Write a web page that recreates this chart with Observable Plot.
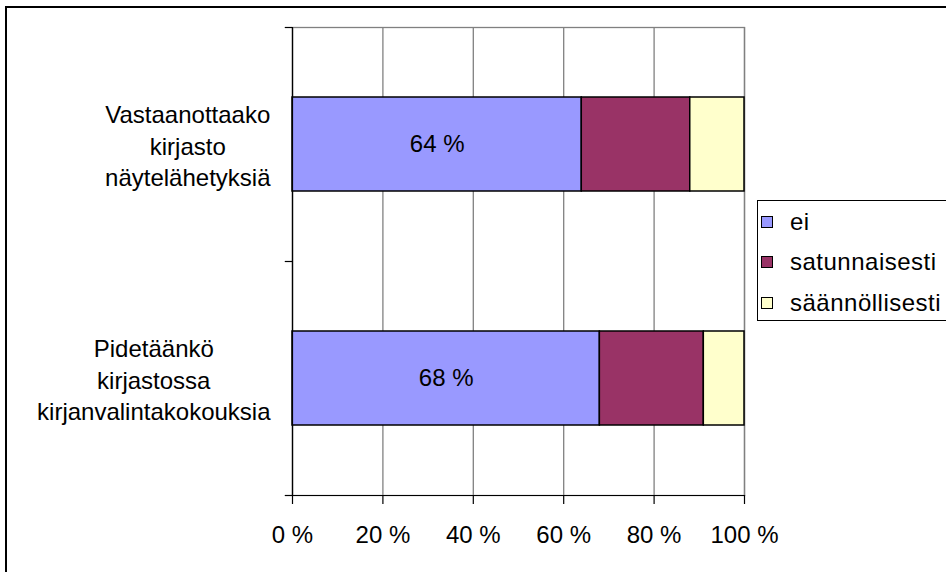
<!DOCTYPE html>
<html>
<head>
<meta charset="utf-8">
<script src="https://cdn.jsdelivr.net/npm/d3@7"></script>
<script src="https://cdn.jsdelivr.net/npm/@observablehq/plot@0.6"></script>
<style>
  html, body { margin: 0; padding: 0; background: #fff; overflow: hidden; }
  body { width: 946px; height: 572px; position: relative; font-family: "Liberation Sans", Arial, sans-serif; }
  #border { position: absolute; left: 5px; top: 6px; width: 1000px; height: 700px; border: 2px solid #000; box-sizing: border-box; pointer-events: none; }
  #chart { position: absolute; left: 0; top: 0; }
  #legend { position: absolute; left: 757px; top: 200px; width: 260px; height: 121px; border: 1px solid #000; box-sizing: border-box; background: #fff; }
  .item { position: absolute; left: 0; height: 30px; display: flex; align-items: center; font-size: 24px; letter-spacing: 0.5px; color: #000; white-space: nowrap; }
  .sw { width: 10px; height: 10px; border: 1px solid #000; margin-left: 3px; margin-right: 17px; }
</style>
</head>
<body>
<div id="chart"></div>
<div id="legend"></div>
<div id="border"></div>
<script>
const categories = ["Vastaanottaako\nkirjasto\nnäytelähetyksiä", "Pidetäänkö\nkirjastossa\nkirjanvalintakokouksia"];
const seriesNames = ["ei", "satunnaisesti", "säännöllisesti"];
const seriesColors = ["#9999FF", "#993366", "#FFFFCC"];
const eiValues = [64, 68];
const satunnaisestiValues = [24, 23];
const saannollisestiValues = [12, 9];
const xTicks = [0, 20, 40, 60, 80, 100];

const seriesValues = [eiValues, satunnaisestiValues, saannollisestiValues];
const data = [];
categories.forEach((c, i) => {
  seriesNames.forEach((s, j) => data.push({category: c, series: s, value: seriesValues[j][i]}));
});

const FONT = "'Liberation Sans', Arial, sans-serif";
const FS = 24;
const ctx = document.createElement("canvas").getContext("2d");
ctx.font = `${FS}px ${FONT}`;
const labelRight = 270;
const plotLeft = 292;
const labelDx = new Map(categories.map(c => {
  const w = d3.max(c.split("\n"), l => ctx.measureText(l).width);
  return [c, labelRight - w / 2 - plotLeft];
}));

const marginTop = 27, marginBottom = 77;
const step = (572 - marginTop - marginBottom) / categories.length;

const marks = [
  Plot.gridX(xTicks, {stroke: "#808080", strokeOpacity: 1, strokeWidth: 1.3}),
  Plot.frame({stroke: "#808080", strokeWidth: 1.3}),
  Plot.barX(data, {x: "value", y: "category", fill: "series", stroke: "#000", strokeWidth: 1.5}),
  Plot.text(data.filter(d => d.series === "ei"), Plot.stackX({x: "value", y: "category", text: d => `${d.value} %`, fontSize: FS, fill: "#000"})),
  Plot.frame({anchor: "left", stroke: "#000", strokeWidth: 1.2}),
  Plot.frame({anchor: "bottom", stroke: "#000", strokeWidth: 1.2}),
  Plot.ruleY(categories, {y: d => d, x1: -1.6, x2: 0, dy: -step / 2, stroke: "#000", strokeWidth: 1.2}),
  Plot.ruleY(categories.slice(-1), {y: d => d, x1: -1.6, x2: 0, dy: step / 2, stroke: "#000", strokeWidth: 1.2}),
  Plot.axisX(xTicks, {tickSize: 9, tickPadding: 21, tickFormat: d => `${d} %`, label: null, fontSize: FS, stroke: "#000", strokeWidth: 1.2, fill: "#000"}),
  ...categories.map(c => Plot.text([c], {y: d => d, text: d => d, frameAnchor: "left", textAnchor: "middle", dx: labelDx.get(c), lineHeight: 1.32, fontSize: FS, fill: "#000"}))
];

const chart = Plot.plot({
  width: 946,
  height: 572,
  marginLeft: plotLeft,
  marginRight: 946 - 744,
  marginTop,
  marginBottom,
  style: {fontFamily: FONT, fontSize: FS + "px", background: "transparent", overflow: "visible"},
  x: {domain: [0, 100], axis: null, label: null},
  y: {domain: categories, paddingInner: 0.6, paddingOuter: 0.3, axis: null, label: null},
  color: {domain: seriesNames, range: seriesColors},
  marks
});
document.getElementById("chart").appendChild(chart);

const legend = document.getElementById("legend");
const rowTops = [6, 46, 87];
seriesNames.forEach((s, i) => {
  const item = document.createElement("div");
  item.className = "item";
  item.style.top = rowTops[i] + "px";
  const sw = document.createElement("span");
  sw.className = "sw";
  sw.style.background = seriesColors[i];
  const t = document.createElement("span");
  t.textContent = s;
  item.appendChild(sw);
  item.appendChild(t);
  legend.appendChild(item);
});
</script>
</body>
</html>
